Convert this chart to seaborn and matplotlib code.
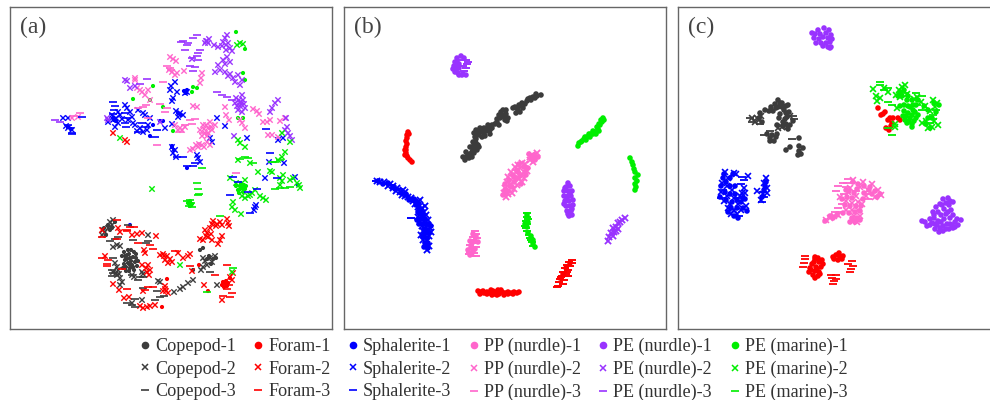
#!/usr/bin/env python3
"""t-SNE maps of particle classes, three panels with a shared legend."""

import matplotlib
matplotlib.use("Agg")
import matplotlib.pyplot as plt
import pandas as pd
import seaborn as sns
from matplotlib.lines import Line2D

sns.set_style("white")
plt.rcParams["font.family"] = ["Liberation Serif", "DejaVu Serif"]

CLASSES = ["Copepod", "Foram", "Sphalerite", "PP (nurdle)", "PE (nurdle)", "PE (marine)"]
COLORS = ["#3c3c3c", "#ff0000", "#0000ff", "#ff66cc", "#9933ff", "#00ee00"]
PANELS = ["a", "b", "c"]

# Panel (a): map coordinates
A_CLASS_0_DOT = [(130,258),(127,255),(133,257),(125,260),(128,263),(132,265),(135,262),(126,267),(130,268),
    (134,252),(128,250),(131,261),(127,259),(133,267),(129,254),(136,258),(124,264),(129,271),(193,270),(200,250),(203,248),
    (122,256),(124,252),(131,250),(136,254),(138,261),(137,266),(123,268),(126,271),(134,270),(130,265),(125,256),
    (108,225),(104,228),(110,230),(106,235),(112,228),(115,222),(209,256),(213,259),(207,259),(211,264),(216,258)]
A_CLASS_0_X = [(108,228),(105,232),(112,225),(102,235),(113,220),(110,222),(103,230),(117,245),(113,247),(120,246),
    (115,263),(117,267),(117,275),(120,278),(113,272),(122,282),(132,275),(134,277),(142,272),(143,274),(158,281),
    (160,282),(142,300),(180,289),(183,287),(193,280),(210,258),(205,261),(215,256),(212,262),(203,258),(203,267),
    (201,270),(207,265),(217,285),(148,235),(132,303),(188,283),(174,292),(120,285),(118,270),(116,273),(119,274)]
A_CLASS_0_DASH = [(115,239),(110,241),(133,240),(148,241),(113,258),(112,270),(113,273),(112,276),(140,277),(143,277),
    (132,275),(143,288),(157,291),(160,297),(155,300),(132,305),(135,307),(135,299),(210,272),(128,225),(118,237),
    (146,243),(164,296),(138,280),(127,303)]
A_CLASS_1_DOT = [(225,283),(222,285),(228,283),(224,287),(226,281),(208,291),(162,307),(199,265),(167,279),(230,278),
    (223,282),(227,286)]
A_CLASS_1_X = [(102,230),(118,228),(120,232),(137,234),(132,235),(142,233),(156,236),(144,250),(145,253),(163,254),
    (160,255),(167,256),(165,260),(170,259),(172,262),(105,256),(148,265),(142,265),(150,270),(149,275),(113,284),
    (119,290),(124,298),(129,297),(143,291),(165,289),(163,291),(168,293),(165,286),(143,308),(150,306),(147,307),
    (155,305),(140,306),(183,258),(178,253),(188,256),(190,254),(192,271),(217,224),(212,224),(222,225),(213,221),
    (228,223),(229,226),(227,219),(208,237),(205,230),(203,240),(212,240),(207,233),(200,239),(220,240),(222,236),
    (218,244),(230,277),(233,273),(232,280),(222,300),(204,285),(113,133),(125,140),(127,142),(216,226),(220,222),
    (210,228),(206,236),(211,234),(146,268),(147,272),(168,263),(164,256),(166,291)]
A_CLASS_1_DASH = [(130,227),(127,230),(127,231),(102,237),(117,239),(138,243),(150,245),(153,249),(102,258),(108,260),
    (107,264),(107,266),(122,269),(127,289),(153,287),(117,220),(175,251),(190,266),(227,265),(215,275),(227,289),
    (232,293),(223,296),(230,297),(145,290),(148,287),(229,285),(134,227)]
A_CLASS_2_DOT = [(160,121),(163,121),(150,136),(153,125),(130,225),(172,147),(187,168),(298,185),(186,93),(187,90),
    (184,91),(181,115),(178,113),(114,120),(116,121),(113,118),(172,146),(174,150),(68,127),(71,129)]
A_CLASS_2_X = [(175,82),(170,90),(177,92),(171,86),(187,92),(185,93),(173,98),(172,101),(180,113),(176,111),(183,115),
    (178,117),(172,124),(165,128),(210,138),(212,142),(225,126),(217,118),(247,138),(127,108),(130,112),(125,105),
    (145,115),(143,113),(113,120),(116,118),(118,123),(112,115),(115,127),(108,122),(143,132),(140,128),(147,130),
    (137,131),(172,147),(175,150),(173,153),(176,157),(198,158),(200,162),(197,155),(68,128),(72,130),(66,126),(63,118),
    (68,118),(283,138),(278,140),(284,163),(269,162),(255,207),(254,210),(256,205),(295,177),(265,178),(120,115),
    (122,119),(128,120),(132,117),(135,125),(150,118),(148,125),(133,123),(118,112),(138,110)]
A_CLASS_2_DASH = [(113,102),(115,106),(114,110),(113,114),(125,113),(126,118),(125,123),(126,127),(142,123),(138,132),
    (145,127),(157,130),(155,137),(68,125),(70,128),(72,133),(72,134),(82,117),(183,157),(177,157),(195,163),(187,166),
    (193,166),(250,213),(230,195),(238,182),(248,192),(257,189),(277,178),(270,153),(266,129),(233,177)]
A_CLASS_3_X = [(173,59),(170,57),(176,61),(172,72),(177,73),(169,70),(175,75),(184,71),(201,78),(202,73),(200,83),
    (142,92),(140,90),(145,95),(148,90),(137,88),(135,78),(150,100),(193,106),(197,107),(180,128),(175,125),(185,127),
    (178,130),(208,128),(203,125),(212,130),(205,133),(210,122),(215,125),(200,130),(207,136),(202,136),(202,145),
    (198,147),(207,142),(193,149),(210,145),(190,150),(225,107),(226,115),(229,120),(242,123),(240,120),(245,128),
    (257,111),(253,109),(259,114),(270,120),(267,122),(263,122),(280,121),(285,118),(272,135),(268,135),(278,137),
    (78,117),(72,118),(135,80),(206,125),(211,127),(204,129),(208,133),(199,144),(204,147),(196,145),(182,130)]
A_CLASS_3_DASH = [(167,66),(170,68),(163,82),(167,108),(165,112),(143,107),(138,108),(148,118),(190,120),(195,119),
    (185,125),(180,132),(203,133),(80,113),(157,145),(236,173),(171,70),(160,104),(192,124),(146,105),(74,116)]
A_CLASS_4_X = [(207,41),(205,43),(209,39),(225,38),(223,42),(227,35),(222,46),(218,47),(230,48),(226,50),(214,45),
    (232,51),(227,57),(223,60),(230,62),(225,64),(218,65),(215,72),(220,70),(225,72),(228,76),(233,78),(238,75),
    (242,80),(235,82),(240,85),(230,74),(240,102),(236,98),(243,100),(240,106),(245,108),(238,110),(235,103),(242,95),
    (242,112),(275,103),(278,100),(272,108),(270,112),(288,133),(290,136),(285,130),(292,140),(287,127),(286,118),
    (127,81),(125,80),(130,88),(135,86),(160,122),(108,120),(107,118),(192,59),(234,136),(239,100),(241,104),(237,106),
    (244,104),(226,45),(228,43),(206,41),(208,43)]
A_CLASS_4_DASH = [(197,35),(193,38),(183,41),(188,43),(187,45),(185,50),(200,50),(198,53),(197,56),(192,58),(198,60),
    (190,66),(195,67),(193,71),(147,79),(140,84),(217,92),(222,95),(227,97),(232,100),(55,120),(60,122),(181,42)]
A_CLASS_5_DOT = [(236,32),(245,49),(243,73),(245,80),(153,86),(193,87),(197,88),(192,92),(150,100),(133,99),(163,107),
    (173,131),(243,118),(238,118),(242,188),(240,186),(245,189),(238,190),(243,192),(246,186),(241,183),(236,186),(239,193),
    (190,201),(188,203),(192,204),(190,206),(240,189),(244,185)]
A_CLASS_5_X = [(240,43),(243,44),(237,45),(240,143),(245,147),(238,140),(238,160),(250,163),(120,138),(285,152),
    (282,157),(278,160),(290,142),(282,133),(230,178),(236,183),(245,180),(233,202),(232,207),(235,210),(241,214),
    (263,198),(266,200),(260,196),(245,198),(250,195),(255,190),(258,172),(270,171),(272,172),(280,178),(282,181),
    (280,185),(283,175),(293,178),(297,183),(299,185),(290,180),(300,188),(152,189),(180,265),(232,272),(242,196),
    (252,193),(248,196)]
A_CLASS_5_DASH = [(245,157),(240,159),(248,158),(253,163),(275,162),(280,160),(272,162),(202,168),(280,188),(275,189),
    (285,188),(290,187),(199,194),(198,195),(198,189),(197,183),(190,200),(191,203),(189,206),(192,207),(187,201),
    (220,216),(207,292),(233,268)]

# Panel (b)
B_CLASS_0_DOT = [(465,160),(468,155),(466,157),(469,158),(472,152),(470,154),(475,148),(473,150),(470,147),(474,146),
    (478,145),(476,143),(473,142),(477,133),(480,132),(482,130),(479,135),(484,133),(487,128),(486,131),(490,130),
    (492,125),(489,127),(497,122),(499,125),(495,124),(502,115),(500,118),(504,117),(503,110),(501,112),(506,114),
    (505,120),(507,121),(517,108),(519,105),(515,107),(522,103),(520,106),(520,112),(523,108),(518,110),(527,101),
    (530,98),(528,99),(533,97),(537,96),(535,98),(541,95),(482,137),(475,137),(463,157),(466,152),(472,147),(477,150),
    (479,147),(472,157),(474,153),(476,139),(474,133),(476,130),(480,128),(484,128),(488,125),(492,128),(490,134),
    (485,136),(497,119),(499,115),(508,118),(506,110),(525,104),(516,113),(531,100),(513,108),(536,94)]
B_CLASS_1_DOT = [(408,132),(407,135),(407,138),(406,141),(407,144),(406,147),(406,150),(406,153),(405,155),(407,156),
    (408,158),(410,160),(412,162),(478,291),(481,292),(484,293),(487,292),(490,293),(493,291),(496,292),(499,294),
    (502,292),(505,293),(508,292),(511,293),(514,292),(517,293),(519,292),(497,295),(487,294),(501,290),(480,294),
    (483,291),(492,295),(494,294),(504,295),(508,294),(513,294),(498,290),(491,290),(409,134),(405,150),
    (570,263),(566,268),(563,274),(560,278)]
B_CLASS_1_DASH = [(572,260),(569,262),(567,265),(570,266),(565,268),(568,270),(563,272),(566,274),(562,276),(568,276),
    (560,279),(564,280),(559,282),(563,284),(558,286),(557,287),(567,272),(572,263),(561,277)]
B_CLASS_2_DOT = [(412,200),(416,205),(419,204),(421,210),(423,215),(417,220),(421,219),(425,219),(419,224),(423,224),
    (427,224),(429,224),(424,229),(428,230),(425,233),(429,233),(423,237),(427,238),(425,243),(428,243),(424,247),
    (428,248),(395,189),(401,193),(406,194),(409,200),(414,199),(388,183),(383,184),(420,214),(431,226),(418,212),
    (416,201),(419,208),(378,181),(393,187)]
B_CLASS_2_X = [(377,181),(380,182),(384,182),(390,184),(388,186),(393,186),(393,188),(397,188),(400,192),(396,191),
    (403,190),(405,192),(402,195),(408,197),(405,196),(411,198),(413,201),(418,202),(415,204),(420,200),(418,207),
    (422,208),(425,206),(420,212),(424,212),(418,217),(422,217),(426,215),(420,222),(424,222),(428,220),(422,226),
    (426,227),(430,228),(423,231),(427,231),(431,232),(421,235),(425,236),(429,236),(423,240),(427,241),(426,245),
    (429,246),(427,250)]
B_CLASS_2_DASH = [(376,181),(381,183),(385,184),(391,185),(411,218),(398,189)]
B_CLASS_3_DOT = [(473,234),(470,241),(472,243),(475,241),(468,250),(473,251),(470,255),(476,236),(478,242),(471,247),
    (475,249),(472,253),(518,172),(513,175),(509,180),(505,184),(514,182),(520,176),(525,172),(528,168),(512,187),
    (507,192),(503,195),(517,170),(521,184),(526,175),(534,155),(529,154),(538,157),(535,160),(519,164),(524,167),
    (510,186),(516,178),(505,190),(532,158)]
B_CLASS_3_X = [(532,155),(537,153),(530,157),(534,158),(530,160),(533,162),(518,165),(522,163),(515,167),(520,168),
    (525,164),(511,172),(516,172),(522,174),(527,171),(508,177),(513,178),(519,179),(524,178),(507,182),(511,184),
    (517,185),(522,182),(505,188),(509,190),(514,189),(504,193),(508,194),(512,193),(506,197)]
B_CLASS_3_DASH = [(475,231),(476,234),(473,237),(477,238),(473,240),(475,243),(470,245),(476,247),(472,249),(470,252),
    (474,253),(472,256),(476,256),(469,254)]
B_CLASS_4_DOT = [(455,62),(454,66),(456,70),(458,73),(462,75),(466,75),(459,64),(453,69),(457,58),(461,56),(464,58),
    (459,75),(456,66),(455,72),(568,183),(566,187),(570,186),(564,191),(568,191),(572,191),(564,196),(568,196),(571,196),
    (565,201),(569,201),(573,200),(566,206),(570,206),(567,211),(571,211),(569,216),(572,215),(568,214),(573,205),
    (565,188),(570,193),(567,199),(564,204),(572,209),(459,68),(463,74),(457,62)]
B_CLASS_4_DASH = [(466,60),(468,62),(467,64),(463,66),(466,68),(464,71),(461,60)]
B_CLASS_4_X = [(625,218),(622,220),(618,223),(616,227),(613,228),(618,229),(614,232),(611,233),(609,237),(613,236),
    (608,241),(620,222),(616,231)]
B_CLASS_5_DOT = [(603,118),(602,122),(600,125),(598,129),(595,132),(591,134),(587,137),(584,139),(581,142),(578,146),
    (601,120),(597,127),(593,131),(589,134),(585,137),(582,141),(630,158),(632,162),(633,165),(634,169),(635,172),
    (638,175),(635,178),(637,181),(635,184),(636,187),(635,190),(599,124),(604,120),(596,134),(590,137),(586,140),
    (579,143),(593,134),(599,131),(527,215),(528,222),(525,224),(527,227),(528,233),(531,236),(533,240),(533,244),(535,247)]
B_CLASS_5_DASH = [(527,213),(527,217),(526,221),(527,224),(526,228),(527,231),(529,235),(530,238),(532,242),(533,246),
    (528,219),(525,226),(531,240)]

# Panel (c)
C_CLASS_0_DOT = [(778,100),(782,103),(775,104),(786,106),(771,107),(778,107),(784,110),(789,112),(765,110),(769,111),
    (787,117),(779,118),(783,122),(777,125),(786,124),(793,121),(772,135),(767,134),(776,137),(770,141),(774,141),
    (786,150),(790,147),(799,146),(799,151),(803,148),(798,155),(801,154),(799,138),(780,114),(773,111),(776,108),
    (782,107),(788,105),(780,103),(786,113),(785,119),(790,125),(760,113),(759,118),(762,122),(770,138),(777,134),
    (783,126),(788,129)]
C_CLASS_0_X = [(757,118),(752,118),(761,116),(755,122),(759,120),(782,127),(787,127),(790,116),(778,128)]
C_CLASS_0_DASH = [(750,118),(752,122),(793,116),(760,124),(770,131),(764,135),(794,119),(792,139)]
C_CLASS_1_DOT = [(815,257),(819,262),(812,264),(816,267),(821,267),(810,268),(815,271),(819,272),(813,275),(818,276),
    (815,259),(836,255),(840,257),(834,259),(838,260),(842,259),(885,112),(886,128),(890,118),(881,115),
    (818,258),(822,260),(814,262),(809,272),(811,270),(817,269),(820,274),(823,264),(815,278),(839,253),(843,256),(833,257),
    (878,108),(883,114),(888,120),(892,123),(889,130),(891,126),(898,118),(893,118),(900,120)]
C_CLASS_1_DASH = [(805,256),(805,259),(804,263),(803,267),(852,261),(848,264),(853,266),(851,269),(850,272),(831,275),
    (836,275),(832,278),(834,281),(833,284),(836,279)]
C_CLASS_2_DOT = [(723,178),(726,182),(730,186),(735,186),(725,192),(730,194),(735,194),(720,197),(726,200),(732,202),
    (737,200),(741,202),(743,198),(731,208),(737,208),(743,208),(728,212),(734,216),(738,218),(733,174),(730,178),
    (721,186),(765,186),(764,190),(762,197),(766,182),(724,174),(745,199),(747,211)]
C_CLASS_2_X = [(725,172),(734,173),(736,174),(728,178),(748,176),(722,183),(727,186),(732,190),(721,192),(742,193),
    (740,196),(745,193),(727,196),(734,198),(724,201),(730,204),(738,204),(746,206),(728,208),(734,210),(741,210),
    (737,214),(731,214),(764,183),(766,178),(767,188),(757,191),(763,194),(767,193),(761,200),(744,188)]
C_CLASS_2_DASH = [(742,177),(744,180),(741,184),(723,190),(738,198),(721,198),(739,216),(763,192),(764,197),(762,202)]
C_CLASS_3_DOT = [(853,182),(858,184),(864,186),(870,187),(875,191),(880,194),(872,194),(864,193),(857,189),(849,191),
    (852,198),(847,197),(842,199),(845,205),(850,206),(856,206),(861,206),(855,212),(849,213),(857,218),(852,218),
    (860,211),(850,222),(855,222),(860,220),(843,213),(837,215),(830,216),(825,221),(833,218),(877,197),(863,199),
    (869,190),(854,193),(846,190)]
C_CLASS_3_X = [(853,180),(863,182),(872,184),(878,190),(881,195),(875,197),(868,190),(860,187),(850,188),(848,192),
    (856,196),(840,197),(846,201),(852,203),(858,202),(862,204),(858,210),(852,210),(846,210),(854,216),(860,216),
    (853,221),(857,222),(838,215),(826,220),(830,218),(834,216),(866,196)]
C_CLASS_3_DASH = [(848,179),(843,183),(838,186),(846,187),(836,191),(844,194),(842,204),(838,208),(835,212),(840,212),
    (847,183),(856,191),(870,194),(868,199)]
C_CLASS_4_DOT = [(823,37),(818,30),(824,28),(829,30),(815,34),(820,34),(826,33),(831,35),(814,38),(819,39),(828,38),(832,39),
    (816,43),(821,43),(826,43),(830,42),(828,47),(831,47),(823,46),(812,33),(922,221),(925,222),(930,225),(935,229),
    (939,232),(943,231),(949,229),(953,228),(958,225),(961,220),(957,219),(950,224),(943,226),(937,225),(930,219),
    (934,218),(938,221),(933,212),(936,207),(940,204),(943,199),(948,198),(953,202),(949,205),(944,209),(951,210),
    (946,214),(953,215),(944,219),(950,218),(955,222),(941,215),(946,203),(950,201),(942,205),(938,212),(932,223),
    (927,226),(940,228),(946,229),(952,225),(947,224),(941,222),(935,224),(948,212),(955,227),(934,215),(830,48)]
C_CLASS_5_DOT = [(908,113),(912,115),(904,111),(910,118),(906,116),(913,110),(909,121),(912,124),(907,123),(916,118),
    (914,121),(910,107),(905,120),(912,127),(907,100),(904,105),(908,106),(913,105),(903,116),(900,92),(898,96),(902,96),
    (904,90),(908,96),(912,100),(918,100),(916,105),(915,112),(918,115),(924,106),(928,110),(934,103),(926,124),(930,128),
    (928,118),(932,118),(900,106),(936,112),(939,105)]
C_CLASS_5_X = [(902,87),(899,90),(905,85),(896,95),(900,97),(907,94),(914,99),(917,97),(921,102),(925,106),(897,108),
    (876,96),(880,98),(873,89),(877,101),(933,100),(937,103),(930,111),(926,121),(934,121),(938,125),(932,127),(928,128),
    (922,123),(895,127),(895,124),(884,88),(888,92),(935,107)]
C_CLASS_5_DASH = [(880,82),(880,85),(884,90),(888,88),(888,102),(892,105),(905,93),(916,93),(922,96),(917,105),
    (922,110),(936,110),(933,115),(933,119),(930,123),(892,135),(888,128)]


def build_frame():
    # one row per mark: panel, class index, marker kind
    rows = []
    for name, pts in globals().copy().items():
        if not name[:2] in ("A_", "B_", "C_"):
            continue
        parts = name.split("_")
        for x, y in pts:
            rows.append({"panel": parts[0].lower(), "cls": CLASSES[int(parts[2])], "kind": parts[3], "x": x, "y": y})
    return pd.DataFrame(rows)


KINDS = {
    "a": {"DOT": dict(marker="o", s=9, linewidth=0),
          "X": dict(marker="x", s=15, linewidth=1.0),
          "DASH": dict(marker="_", s=32, linewidth=1.2)},
    "b": {"DOT": dict(marker="o", s=16, linewidth=0),
          "X": dict(marker="x", s=20, linewidth=1.3),
          "DASH": dict(marker="_", s=40, linewidth=1.4)},
    "c": {"DOT": dict(marker="o", s=16, linewidth=0),
          "X": dict(marker="x", s=18, linewidth=1.2),
          "DASH": dict(marker="_", s=40, linewidth=1.3)},
}
XLIMS = {"a": (10, 332), "b": (344, 666), "c": (678, 1000)}
LABELS = {"a": "(a)", "b": "(b)", "c": "(c)"}
SPINE = "#666666"


def main():
    df = build_frame()
    palette = dict(zip(CLASSES, COLORS))
    fig = plt.figure(figsize=(9.9, 4.0), dpi=100)
    for p in PANELS:
        lo, hi = XLIMS[p]
        ax = fig.add_axes([lo / 990, 1 - 329 / 400, (hi - lo) / 990, 322 / 400])
        sub = df[df["panel"] == p]
        for kind, style in KINDS[p].items():
            sns.scatterplot(data=sub[sub["kind"] == kind], x="x", y="y", hue="cls", palette=palette,
                            legend=False, ax=ax, **style)
        ax.set_xlim(lo, hi)
        ax.set_ylim(329, 7)
        ax.set_xticks([])
        ax.set_yticks([])
        ax.set_xlabel("")
        ax.set_ylabel("")
        for s in ax.spines.values():
            s.set_color(SPINE)
            s.set_linewidth(1.0)
        ax.text(lo + 10, 27, LABELS[p], fontsize=17, color="#444444", va="center")

    handles = []
    labels = []
    for cls, col in zip(CLASSES, COLORS):
        for i, (mk, ms, mew) in enumerate([("o", 5.5, 0), ("x", 4, 1.1), ("_", 6, 1.2)]):
            handles.append(Line2D([], [], linestyle="", marker=mk, color=col, markersize=ms, markeredgewidth=mew))
            labels.append(f"{cls}-{i + 1}")
    fig.legend(handles, labels, ncol=6, frameon=False, loc="lower left", bbox_to_anchor=(135 / 990, -0.012),
               fontsize=13.1, labelcolor="#333333", handlelength=0.7, handletextpad=0.2, columnspacing=0.88,
               labelspacing=0.31, borderpad=0.1, borderaxespad=0.1)
    fig.savefig("out.png", dpi=100)
    plt.close(fig)


if __name__ == "__main__":
    main()
